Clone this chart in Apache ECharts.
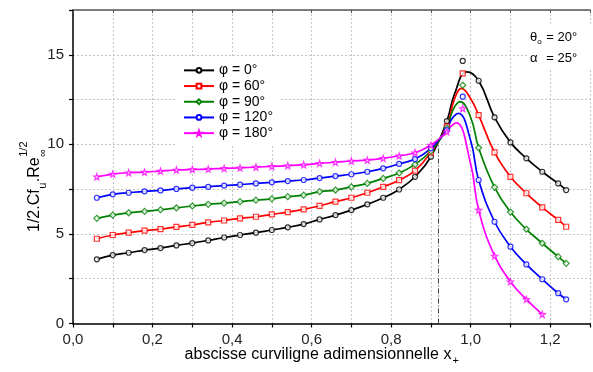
<!DOCTYPE html>
<html><head><meta charset="utf-8">
<script src="https://cdn.jsdelivr.net/npm/echarts@6/dist/echarts.min.js"></script>
<style>html,body{margin:0;padding:0;background:#fff}#c{width:593px;height:372px}</style>
</head><body><div id="c"></div>
<script>
// ---- data ----
const xMarkers = [0.06,0.10,0.14,0.18,0.22,0.26,0.30,0.34,0.38,0.42,0.46,0.50,0.54,0.58,0.62,0.66,0.70,0.74,0.78,0.82,0.86,0.90,0.94,0.98,1.02,1.06,1.10,1.14,1.18,1.22,1.24];
const seriesNames = ['φ = 0°','φ = 60°','φ = 90°','φ = 120°','φ = 180°'];
const phi0   = [3.58,3.82,3.95,4.10,4.21,4.36,4.49,4.64,4.80,4.94,5.07,5.22,5.37,5.55,5.81,6.05,6.33,6.65,7.02,7.48,8.19,9.31,11.3,14.66,13.55,11.51,10.11,9.22,8.47,7.82,7.45];
const phi60  = [4.73,4.94,5.07,5.18,5.27,5.39,5.50,5.65,5.75,5.87,5.96,6.09,6.22,6.37,6.57,6.80,7.02,7.30,7.63,8.00,8.53,9.55,11.0,13.96,11.63,9.55,8.19,7.27,6.48,5.78,5.40];
const phi90  = [5.87,6.05,6.18,6.26,6.35,6.45,6.56,6.65,6.72,6.80,6.89,6.96,7.08,7.17,7.36,7.45,7.63,7.82,8.10,8.40,8.88,9.64,10.9,13.3,9.81,7.60,6.22,5.26,4.48,3.73,3.36];
const phi120 = [7.02,7.21,7.30,7.38,7.43,7.51,7.58,7.63,7.70,7.75,7.82,7.88,7.95,8.01,8.12,8.23,8.33,8.47,8.66,8.91,9.18,9.78,10.8,12.66,8.01,5.68,4.29,3.30,2.47,1.69,1.35];
const phi180 = [8.19,8.34,8.42,8.45,8.51,8.57,8.60,8.62,8.66,8.69,8.73,8.77,8.81,8.86,8.94,9.00,9.07,9.12,9.22,9.36,9.53,9.96,10.7,12.0,6.33,3.77,2.33,1.35,0.51];
// the fitted curves do not pass through the x = 0.98 markers; curve points read near the peaks
const offCurveX = 0.98;
const peak0   = [[0.96,12.85],[0.99,14.05]];
const peak60  = [[0.958,12.45],[0.977,13.12],[1.0,12.55]];
const peak90  = [[0.955,11.9],[0.973,12.38],[1.0,11.5]];
const peak120 = [[0.952,11.4],[0.969,11.73],[1.0,10.2]];
const peak180 = [[0.95,11.0],[0.964,11.2],[1.0,8.9]];
const stagnationX = 0.918;
const stagnationTop = 10.3;
const xTickLabels = ['0,0','0,2','0,4','0,6','0,8','1,0','1,2'];
const yTickLabels = ['0','5','10','15'];

// ---- styles ----
const FONT = '"Liberation Sans", Arial, sans-serif';
const colors = ['#000000','#ff0000','#008000','#0000ff','#ff00ff'];
const star = 'path://M0,-10L2.35,-3.24L9.51,-3.09L3.8,1.24L5.88,8.09L0,4L-5.88,8.09L-3.8,1.24L-9.51,-3.09L-2.35,-3.24Z';
const symbols = ['circle','rect','diamond','circle',star];
const symSizes = [5,5,6,5,6];
const allY = [phi0,phi60,phi90,phi120,phi180];
const peaks = [peak0,peak60,peak90,peak120,peak180];

const series = [];
allY.forEach((ys,i)=>{
  const markers = ys.map((y,k)=>[xMarkers[k],y]);
  const curve = markers.filter(p=>Math.abs(p[0]-offCurveX)>1e-9).concat(peaks[i]).sort((a,b)=>a[0]-b[0]);
  const itemStyle = {color:'#fff', borderColor:colors[i], borderWidth:1.2};
  const s = {
    type:'line', name:seriesNames[i], data:curve, smooth:0.45, showSymbol:false,
    symbol:symbols[i], symbolSize:symSizes[i], itemStyle:itemStyle,
    lineStyle:{color:colors[i], width:1.7}, z:2, silent:true
  };
  if(i===0){
    s.markLine = {silent:true, symbol:'none', label:{show:false}, animation:false,
      lineStyle:{color:'#444', type:[5,2,1,2], width:1},
      data:[[{coord:[stagnationX,0]},{coord:[stagnationX,stagnationTop]}]]};
  }
  series.push(s);
  series.push({type:'scatter', name:'m'+i, data:markers, symbol:symbols[i], symbolSize:symSizes[i],
    itemStyle:itemStyle, z:3, silent:true});
});

const splitStyle = {show:true, lineStyle:{color:'#c4c4c4', type:[2,2], width:1}};
const chart = echarts.init(document.getElementById('c'), null, {renderer:'canvas'});

function measure(t, size){
  const ctx = document.createElement('canvas').getContext('2d');
  ctx.font = size + 'px ' + FONT;
  return ctx.measureText(t).width;
}
// y axis title pieces (rotated group)
const yMain = 16, ySmall = 11;
const w1 = measure('1/2.Cf', yMain), wu = measure('u', ySmall), w2 = measure('.Re', yMain);
const yTitle = {
  type:'group', x:41, y:232, rotation:Math.PI/2,
  children:[
    {type:'text', x:0, y:-6, style:{text:'1/2.Cf', font:yMain+'px '+FONT, fill:'#000', verticalAlign:'middle', textVerticalAlign:'middle'}},
    {type:'text', x:w1+0.5, y:2, style:{text:'u', font:ySmall+'px '+FONT, fill:'#000', verticalAlign:'middle', textVerticalAlign:'middle'}},
    {type:'text', x:w1+wu+1, y:-6, style:{text:'.Re', font:yMain+'px '+FONT, fill:'#000', verticalAlign:'middle', textVerticalAlign:'middle'}},
    {type:'text', x:w1+wu+w2+1.5, y:2, style:{text:'∞', font:ySmall+'px '+FONT, fill:'#000', verticalAlign:'middle', textVerticalAlign:'middle'}},
    {type:'text', x:w1+wu+w2+1.5, y:-17, style:{text:'1/2', font:ySmall+'px '+FONT, fill:'#000', verticalAlign:'middle', textVerticalAlign:'middle'}}
  ]
};
const xt = 'abscisse curviligne adimensionnelle x';
const wx = measure(xt, 16);
const xTitle = {type:'group', x:318 - wx/2, y:355, children:[
  {type:'text', x:0, y:0, style:{text:xt, font:'16px '+FONT, fill:'#000', verticalAlign:'middle', textVerticalAlign:'middle'}},
  {type:'text', x:wx+1, y:6, style:{text:'+', font:'11px '+FONT, fill:'#000', verticalAlign:'middle', textVerticalAlign:'middle'}}
]};
const wTheta = measure('θ', 13);
const annot = {type:'group', x:530, y:0, children:[
  {type:'rect', z:50, x:-3, y:25, shape:{x:0, y:0, width:70, height:44}, style:{fill:'#fff'}},
  {type:'text', z:51, x:0, y:37, style:{text:'θ', font:'13px '+FONT, fill:'#000', verticalAlign:'middle', textVerticalAlign:'middle'}},
  {type:'text', z:51, x:wTheta, y:42, style:{text:'o', font:'8px '+FONT, fill:'#000', verticalAlign:'middle', textVerticalAlign:'middle'}},
  {type:'text', z:51, x:wTheta+9, y:37, style:{text:'= 20°', font:'13px '+FONT, fill:'#000', verticalAlign:'middle', textVerticalAlign:'middle'}},
  {type:'text', z:51, x:0, y:58, style:{text:'α', font:'13px '+FONT, fill:'#000', verticalAlign:'middle', textVerticalAlign:'middle'}},
  {type:'text', z:51, x:wTheta+9, y:58, style:{text:'= 25°', font:'13px '+FONT, fill:'#000', verticalAlign:'middle', textVerticalAlign:'middle'}}
]};

chart.setOption({
  animation:false,
  backgroundColor:'#fff',
  grid:{left:73, right:-9, top:10, bottom:48.5, show:false},
  legend:{
    data:seriesNames, orient:'vertical', left:175, top:57.5, padding:[5,6,5,8],
    itemWidth:30, itemHeight:6, itemGap:0, backgroundColor:'#fff', selectedMode:false,
    textStyle:{fontSize:14, lineHeight:15.7, color:'#000', fontFamily:FONT}
  },
  xAxis:[{
    type:'value', min:0, max:1.3, interval:0.1, position:'bottom',
    axisLine:{show:true, onZero:false, lineStyle:{color:'#000', width:1.5}},
    axisTick:{show:true, length:4, lineStyle:{color:'#000', width:1.2}},
    axisLabel:{margin:9, fontSize:15, color:'#222', fontFamily:FONT,
      formatter:v=>{const k=Math.round(v*10); return k%2===0 ? xTickLabels[k/2]||'' : '';}},
    splitLine:splitStyle
  },{
    type:'value', min:0, max:1.3, interval:0.1, position:'top',
    axisLine:{show:true, onZero:false, lineStyle:{color:'#555', width:1.5}},
    axisTick:{show:true, inside:true, length:3, lineStyle:{color:'#555'}},
    axisLabel:{show:false}, splitLine:{show:false}
  }],
  yAxis:{
    type:'value', min:0, max:17.5, interval:2.5,
    axisLine:{show:true, onZero:false, lineStyle:{color:'#000', width:1.5}},
    axisTick:{show:true, length:4, lineStyle:{color:'#000', width:1.2}},
    axisLabel:{margin:9, fontSize:15, color:'#222', fontFamily:FONT,
      formatter:v=>{const k=Math.round(v*2); return k%10===0 ? yTickLabels[k/10]||'' : '';}},
    splitLine:splitStyle
  },
  graphic:[yTitle, xTitle, annot],
  series:series
});
</script></body></html>
